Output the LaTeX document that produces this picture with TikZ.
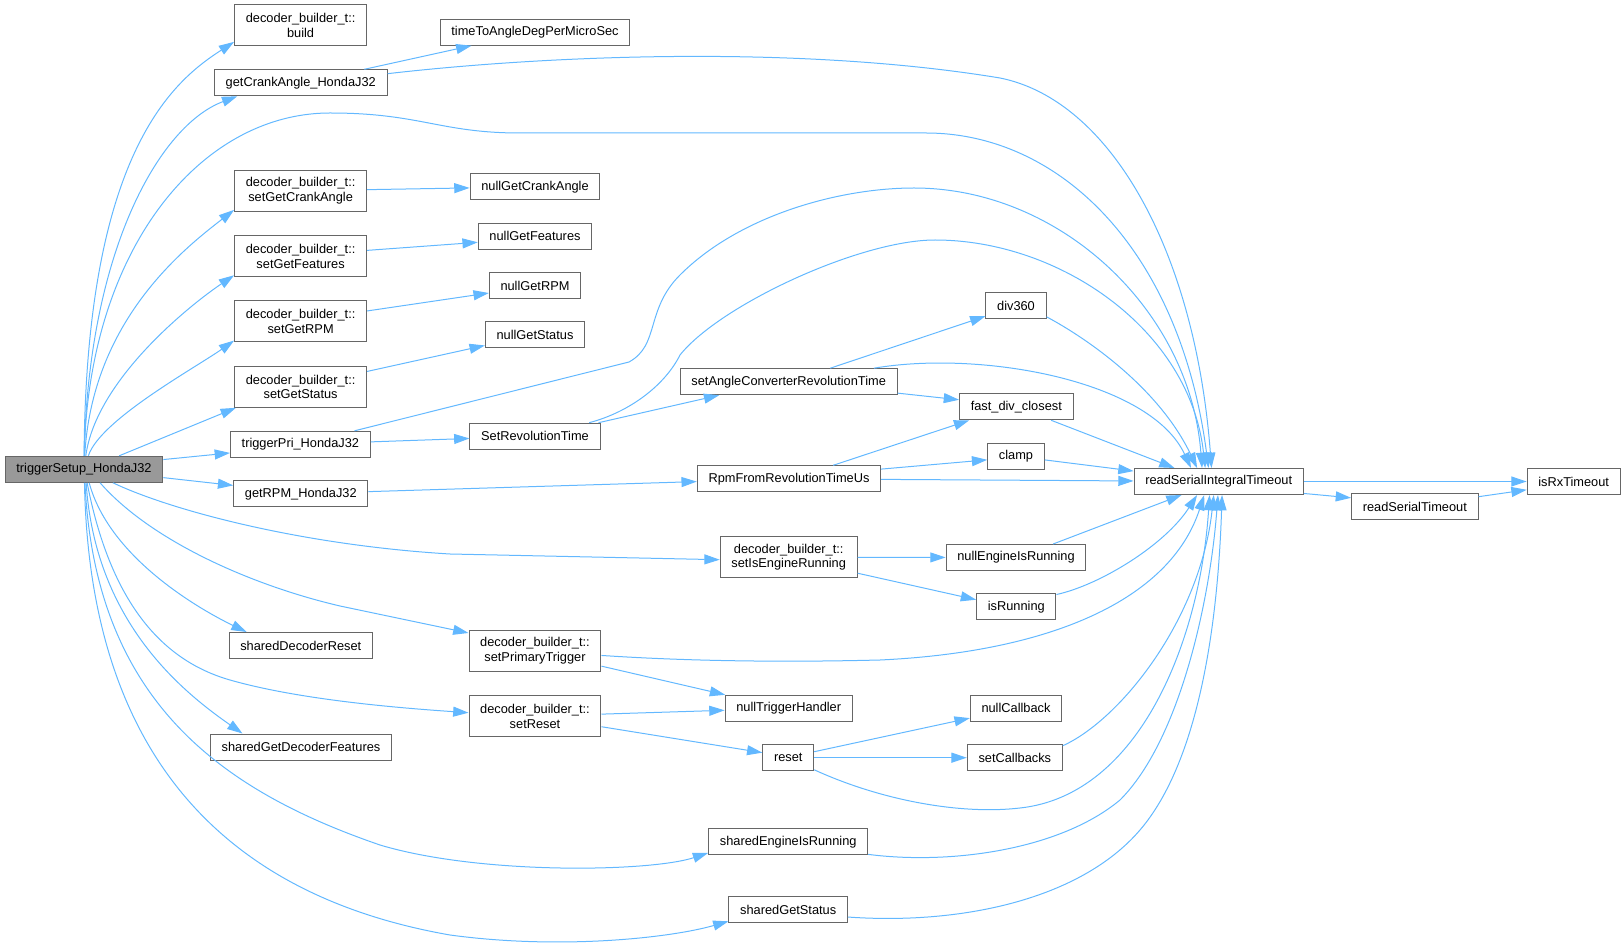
\documentclass[tikz,border=0pt]{standalone}
\usepackage{fontspec}
\setmainfont{Liberation Sans}
\usetikzlibrary{arrows.meta}
\definecolor{calledge}{HTML}{63B8FF}
\definecolor{boxline}{HTML}{666666}
\definecolor{focus}{HTML}{999999}
\tikzset {>={Triangle[length=11.5pt,width=7.5pt]},
  fn/.style={draw=boxline,line width=.75pt,fill=white,inner xsep=8.4pt,inner ysep=2pt,minimum height=19.5pt},
  dbt/.style={fn,align=center,minimum width=97.5pt,minimum height=30.75pt},
  call/.style={->,draw=calledge,line width=.75pt}}

\begin{document}
\begin{tikzpicture}[x=.75pt,y=-.75pt,font=\fontsize{9.6}{11}\selectfont]
\useasboundingbox (0,0) rectangle (1622,948);
\node[fn,fill=focus] (TS) at (84,469.3) {triggerSetup\_HondaJ32};
\node[dbt] (Build) at (300.6,25.3) {decoder\_builder\_t::\\build};
\node[fn] (TimeAngle) at (535,32.2) {timeToAngleDegPerMicroSec};
\node[fn] (CrankHJ) at (300.8,82.8) {getCrankAngle\_HondaJ32};
\node[dbt] (SetCrank) at (300.6,190.8) {decoder\_builder\_t::\\setGetCrankAngle};
\node[fn] (NullCrank) at (535,186.8) {nullGetCrankAngle};
\node[dbt] (SetFeat) at (300.6,256.2) {decoder\_builder\_t::\\setGetFeatures};
\node[fn] (NullFeat) at (535,236.3) {nullGetFeatures};
\node[dbt] (SetRPM) at (300.6,321.5) {decoder\_builder\_t::\\setGetRPM};
\node[fn] (NullRPM) at (535,285.7) {nullGetRPM};
\node[dbt] (SetStat) at (300.6,386.8) {decoder\_builder\_t::\\setGetStatus};
\node[fn] (NullStat) at (535,334.8) {nullGetStatus};
\node[fn] (TrigPri) at (300.4,444.3) {triggerPri\_HondaJ32};
\node[fn] (SetRev) at (535,436.2) {SetRevolutionTime};
\node[fn] (GetRPM) at (300.8,493.7) {getRPM\_HondaJ32};
\node[fn] (ShReset) at (300.8,645.5) {sharedDecoderReset};
\node[dbt] (SetPrim) at (535,650.8) {decoder\_builder\_t::\\setPrimaryTrigger};
\node[dbt] (SetReset) at (535,716.2) {decoder\_builder\_t::\\setReset};
\node[fn] (ShFeat) at (301,747) {sharedGetDecoderFeatures};
\node[fn] (Div) at (1016,305.7) {div360};
\node[fn] (SetConv) at (788.7,381.7) {setAngleConverterRevolutionTime};
\node[fn] (FastDiv) at (1016.3,406.8) {fast\_div\_closest};
\node[fn] (Clamp) at (1016,456.3) {clamp};
\node[fn] (RpmRev) at (789,478.8) {RpmFromRevolutionTimeUs};
\node[fn] (RSIT) at (1218.7,481.5) {readSerialIntegralTimeout};
\node[fn] (RxTO) at (1573.7,481.5) {isRxTimeout};
\node[fn] (RST) at (1414.8,506.8) {readSerialTimeout};
\node[dbt] (SetRun) at (788.7,557.3) {decoder\_builder\_t::\\setIsEngineRunning};
\node[fn] (NullRun) at (1016,557.5) {nullEngineIsRunning};
\node[fn] (IsRun) at (1016.3,606.8) {isRunning};
\node[fn] (NullTrig) at (788.7,708.3) {nullTriggerHandler};
\node[fn] (NullCb) at (1016,708.3) {nullCallback};
\node[fn] (Reset) at (788.3,757.7) {reset};
\node[fn] (SetCb) at (1014.8,757.7) {setCallbacks};
\node[fn] (ShRun) at (788.2,841.7) {sharedEngineIsRunning};
\node[fn] (ShStat) at (788.2,909.7) {sharedGetStatus};
\foreach \a/\b in {TS.7/TrigPri.187, TS.354/GetRPM.173, TS.21/SetStat.198,
  CrankHJ.12/TimeAngle.192, SetCrank/NullCrank, SetFeat.5/NullFeat.186,
  SetRPM.9/NullRPM.189, SetStat.13/NullStat.192, TrigPri/SetRev,
  SetRev.12/SetConv.191, SetConv.18/Div.199, SetConv.354/FastDiv.173,
  RpmRev.17/FastDiv.196, RpmRev.6/Clamp.187, RpmRev/RSIT, GetRPM/RpmRev,
  Clamp/RSIT.173, FastDiv/RSIT.163, SetRun/NullRun, SetRun.347/IsRun.170,
  NullRun.20/RSIT.200, SetPrim.347/NullTrig.168, SetReset/NullTrig,
  SetReset.351/Reset.169, Reset.13/NullCb.192, Reset/SetCb,
  RSIT/RxTO, RSIT.352/RST.172, RST.9/RxTO.190}
  \draw[call] (\a) -- (\b);
\draw[call] (TS) .. controls (86,150) and (175,80) .. (Build.194);
\draw[call] (TS) .. controls (88,250) and (160,125) .. (CrankHJ.192);
\draw[call] (TS) .. controls (88,250) and (200,113) .. (330,113)
  .. controls (420,113) and (440,133) .. (520,133) -- (926,133)
  .. controls (1060,133) and (1180,250) .. (RSIT.127);
\draw[call] (TS) .. controls (92,320) and (185,248) .. (SetCrank.196);
\draw[call] (TS) .. controls (96,380) and (190,305) .. (SetFeat.196);
\draw[call] (TS) .. controls (100,420) and (195,368) .. (SetRPM.196);
\draw[call] (TS.335) .. controls (170,510) and (300,545) .. (450,554) -- (SetRun.182);
\draw[call] (TS.320) .. controls (150,540) and (250,585) .. (340,606) -- (SetPrim.165);
\draw[call] (TS.291) .. controls (110,560) and (205,612) .. (ShReset.166);
\draw[call] (TS.283) .. controls (110,600) and (160,660) .. (230,680)
  .. controls (300,700) and (400,708) .. (SetReset.177);
\draw[call] (TS.279) .. controls (95,620) and (180,690) .. (ShFeat.167);
\draw[call] (TS.274) .. controls (95,700) and (220,790) .. (380,845)
  .. controls (480,875) and (650,872) .. (ShRun.188);
\draw[call] (TS.272) .. controls (90,780) and (250,900) .. (450,935)
  .. controls (560,950) and (670,938) .. (ShStat.191);
\draw[call] (CrankHJ.6) .. controls (550,55) and (800,45) .. (1000,78)
  .. controls (1110,100) and (1195,250) .. (RSIT.118);
\draw[call] (TrigPri.14) -- (629,362) .. controls (660,345) and (645,310) .. (680,275)
  .. controls (740,215) and (840,188) .. (914,188)
  .. controls (1060,188) and (1190,310) .. (RSIT.141);
\draw[call] (SetRev.14) .. controls (630,412) and (665,385) .. (680,355)
  .. controls (720,305) and (860,240) .. (935,240)
  .. controls (1060,240) and (1190,330) .. (RSIT.135);
\draw[call] (SetConv.9) .. controls (980,350) and (1150,380) .. (RSIT.154);
\draw[call] (Div.340) .. controls (1090,340) and (1160,390) .. (RSIT.148);
\draw[call] (IsRun.17) .. controls (1100,585) and (1165,545) .. (RSIT.212);
\draw[call] (SetPrim.356) .. controls (700,662) and (800,662) .. (880,660)
  .. controls (1050,652) and (1170,600) .. (RSIT.223);
\draw[call] (Reset.335) .. controls (880,800) and (960,815) .. (1020,808)
  .. controls (1140,795) and (1200,640) .. (RSIT.236);
\draw[call] (SetCb.14) .. controls (1120,720) and (1200,620) .. (RSIT.250);
\draw[call] (ShRun.351) .. controls (950,865) and (1060,850) .. (1120,800)
  .. controls (1180,740) and (1210,600) .. (RSIT.267);
\draw[call] (ShStat.353) .. controls (960,925) and (1080,900) .. (1140,830)
  .. controls (1200,760) and (1218,620) .. (RSIT.284);
\end{tikzpicture}
\end{document}
